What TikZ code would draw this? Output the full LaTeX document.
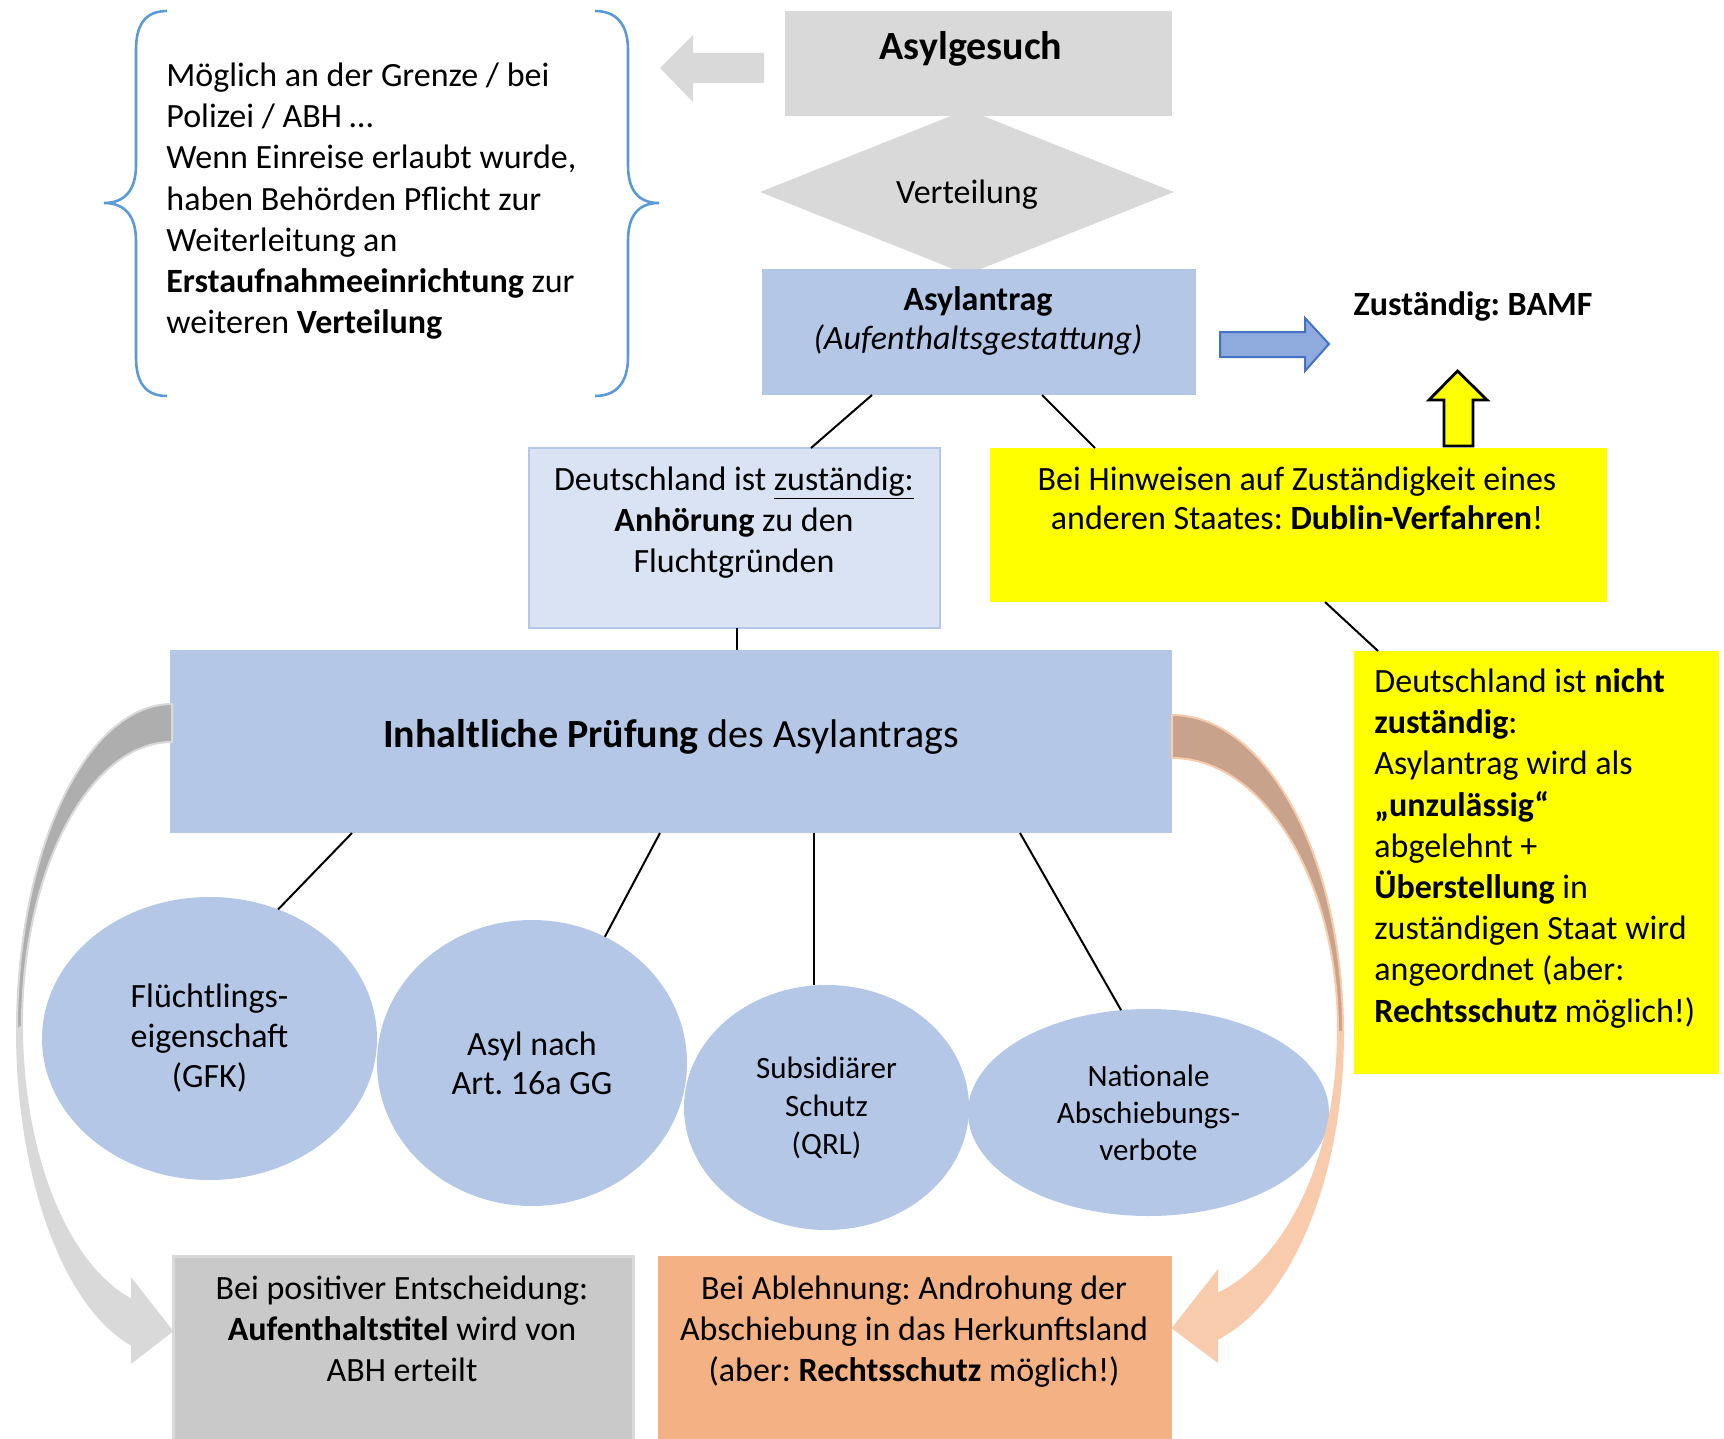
\documentclass[tikz,border=0pt]{standalone}
\usepackage{fontspec}
\setmainfont{Carlito}
\usetikzlibrary{shapes.geometric}
\frenchspacing

\definecolor{gesuchgray}{HTML}{D9D9D9}
\definecolor{antragblue}{HTML}{B4C7E7}
\definecolor{zustblue}{HTML}{DAE3F3}
\definecolor{hinweisyellow}{HTML}{FFFF00}
\definecolor{posgray}{HTML}{C9C9C9}
\definecolor{ablorange}{HTML}{F4B183}
\definecolor{bracecol}{HTML}{5B9BD5}
\definecolor{arrowfill}{HTML}{8FAADC}
\definecolor{arrowline}{HTML}{4472C4}
\definecolor{backgray}{HTML}{AEAEAE}
\definecolor{frontgray}{HTML}{D9D9D9}
\definecolor{backbrown}{HTML}{C8A28A}
\definecolor{frontorange}{HTML}{F8CBAD}

\begin{document}
\begin{tikzpicture}[x=0.5pt,y=-0.5pt,
      box/.style={
         rectangle,
         inner sep=0pt,
         outer sep=0pt},
      ell/.style={
         ellipse,
         fill=antragblue,
         inner sep=0pt,
         outer sep=0pt,
         align=center,
         font=\fontsize{17}{20}\selectfont},
      txt/.style={
         inner sep=0pt,
         font=\fontsize{17}{20.5}\selectfont},
      bigtxt/.style={
         inner sep=0pt,
         font=\fontsize{20}{24}\selectfont},
      link/.style={
         draw=black,
         line width=1pt}
]
      \useasboundingbox (0,0) rectangle (1724,1439);

      %boxes
      \node[box,fill=gesuchgray,minimum width=193.5pt,minimum height=52.5pt] (gesuch) at (978.5,63.5) {};
      \node[diamond,fill=gesuchgray,minimum width=207pt,minimum height=76pt,inner sep=0pt,txt,text depth=0pt] (vert) at (967,192) {Verteilung};
      \node[box,fill=antragblue,minimum width=217pt,minimum height=63pt] (antrag) at (979,332) {};
      \node[box,fill=zustblue,draw=antragblue,line width=1.2pt,minimum width=205.5pt,minimum height=90pt] (zust) at (734.5,538) {};
      \node[box,fill=hinweisyellow,minimum width=308.5pt,minimum height=77pt] (dublin) at (1298.5,525) {};
      \node[box,fill=hinweisyellow,minimum width=182.5pt,minimum height=211.5pt] (nicht) at (1536.5,862.5) {};
      \node[box,fill=antragblue,minimum width=501pt,minimum height=91.5pt] (pruef) at (671,741.5) {};
      \node[box,fill=posgray,draw=gesuchgray,line width=1.5pt,minimum width=230pt,minimum height=97pt] (positiv) at (403,1353) {};
      \node[box,fill=ablorange,minimum width=257pt,minimum height=97pt] (ablehnung) at (915,1353) {};

      %texts (multi-line nodes sit on their last baseline)
      \node[bigtxt,font=\fontsize{20}{24}\selectfont\bfseries,anchor=base] (gesuchtxt) at (971,60) {Asylgesuch};
      \node[txt,font=\fontsize{17}{20}\selectfont,align=center,anchor=base] (antragtxt) at (978,350) {\textbf{Asylantrag}\\\textit{(Aufenthaltsgestattung)}};
      \node[txt,font=\fontsize{17}{20.5}\selectfont\bfseries,anchor=base] (bamf) at (1473,315) {Zuständig: BAMF};
      \node[txt,font=\fontsize{17}{20.65}\selectfont,align=left,anchor=base west] (hinweis) at (166,334) {Möglich an der Grenze / bei\\Polizei / ABH …\\Wenn Einreise erlaubt wurde,\\haben Behörden Pflicht zur\\Weiterleitung an\\\textbf{Erstaufnahmeeinrichtung} zur\\weiteren \textbf{Verteilung}};
      \node[txt,align=center,anchor=base] (zusttxt) at (734,572) {Deutschland ist \underline{zuständig:}\\\textbf{Anhörung} zu den\\Fluchtgründen};
      \node[txt,font=\fontsize{17}{19.5}\selectfont,align=center,anchor=base] (dublintxt) at (1297,529) {Bei Hinweisen auf Zuständigkeit eines\\anderen Staates: \textbf{Dublin-Verfahren}!};
      \node[txt,font=\fontsize{17}{20.6}\selectfont,align=left,anchor=base west] (nichttxt) at (1374,1022) {Deutschland ist \textbf{nicht}\\\textbf{zuständig}:\\Asylantrag wird als\\\textbf{„unzulässig“}\\abgelehnt +\\\textbf{Überstellung} in\\zuständigen Staat wird\\angeordnet (aber:\\\textbf{Rechtsschutz} möglich!)};
      \node[bigtxt,anchor=base] (prueftxt) at (671,747) {\textbf{Inhaltliche Prüfung} des Asylantrags};
      \node[txt,align=center,anchor=base] (postxt) at (402,1381) {Bei positiver Entscheidung:\\\textbf{Aufenthaltstitel} wird von\\ABH erteilt};
      \node[txt,align=center,anchor=base] (abltxt) at (914,1381) {Bei Ablehnung: Androhung der\\Abschiebung in das Herkunftsland\\(aber: \textbf{Rechtsschutz} möglich!)};

      %ellipses
      \node[ell,minimum width=167.5pt,minimum height=141.5pt] (gfk) at (209.5,1038.5) {Flüchtlings-\\eigenschaft\\(GFK)};
      \node[ell,font=\fontsize{17}{19.5}\selectfont,minimum width=155pt,minimum height=143pt] (art) at (532,1063) {Asyl nach\\Art. 16a GG};
      \node[ell,font=\fontsize{15.5}{19}\selectfont,minimum width=142.5pt,minimum height=122.5pt] (qrl) at (826.5,1107.5) {Subsidiärer\\Schutz\\(QRL)};
      \node[ell,font=\fontsize{15.5}{18.5}\selectfont,minimum width=180.5pt,minimum height=103.5pt] (nat) at (1148.5,1112.5) {Nationale\\Abschiebungs-\\verbote};

      %connectors
      \foreach \i/\j in {% start point/end point
        {antrag.south -| 872,0}/{zust.north -| 811,0},
        {antrag.south -| 1042,0}/{dublin.north -| 1095,0},
        {dublin.south -| 1325,0}/{nicht.north -| 1378,0},
        {zust.south -| 737,0}/{pruef.north -| 737,0},
        {pruef.south -| 352,0}/{gfk.62},
        {pruef.south -| 660,0}/{art.60},
        {pruef.south -| 814,0}/{qrl.north -| 814,0},
        {pruef.south -| 1020,0}/{nat.105.5}}
      \draw [link] (\i) -- (\j);

      %braces
      \draw[bracecol,line width=1.3pt] (167,11) .. controls (145,11) and (136,25) .. (136,50) -- (136,165) .. controls (136,190) and (125,203) .. (104,203) .. controls (125,203) and (136,216) .. (136,241) -- (136,357) .. controls (136,382) and (145,396) .. (167,396);
      \draw[bracecol,line width=1.3pt] (595,11) .. controls (617,11) and (628,25) .. (628,50) -- (628,165) .. controls (628,190) and (638,203) .. (659,203) .. controls (638,203) and (628,216) .. (628,241) -- (628,357) .. controls (628,382) and (617,396) .. (595,396);

      %block arrows
      \fill[gesuchgray] (764,53) -- (693,53) -- (693,35) -- (660,68) -- (693,102) -- (693,83) -- (764,83) -- cycle;
      \filldraw[fill=arrowfill,draw=arrowline,line width=1pt] (1220,332) -- (1305,332) -- (1305,318) -- (1329,344) -- (1305,371) -- (1305,357) -- (1220,357) -- cycle;
      \filldraw[fill=hinweisyellow,draw=black,line width=1.4pt] (1444,446) -- (1444,400) -- (1429,400) -- (1457.5,371) -- (1487,400) -- (1473,400) -- (1473,446) -- cycle;

      %curved arrows
      \filldraw[fill=frontgray,draw=frontgray,line width=1pt] (17,1030) arc[start angle=180,end angle=104.96,x radius=155,y radius=326] -- (132,1362) -- (172,1331) -- (132,1280) -- (132,1300) arc[start angle=105.47,end angle=180,x radius=150,y radius=284] -- cycle;
      \filldraw[fill=backgray,draw=frontgray,line width=1pt] (172,704) arc[start angle=270,end angle=180,x radius=155,y radius=326] -- (22,1026) arc[start angle=180,end angle=270,x radius=150,y radius=284] -- cycle;

      \filldraw[fill=frontorange,draw=frontorange,line width=1pt] (1343,1032.6) arc[start angle=0,end angle=74.74,x radius=171,y radius=317.6] -- (1217,1361) -- (1173,1328) -- (1217,1272) -- (1217,1294) arc[start angle=74.27,end angle=0,x radius=166,y radius=273.1] -- cycle;
      \filldraw[fill=backbrown,draw=frontorange,line width=1pt] (1172,715) arc[start angle=270,end angle=360,x radius=171,y radius=317.6] -- (1338,1031.1) arc[start angle=0,end angle=-90,x radius=166,y radius=273.1] -- cycle;

\end{tikzpicture}
\end{document}
